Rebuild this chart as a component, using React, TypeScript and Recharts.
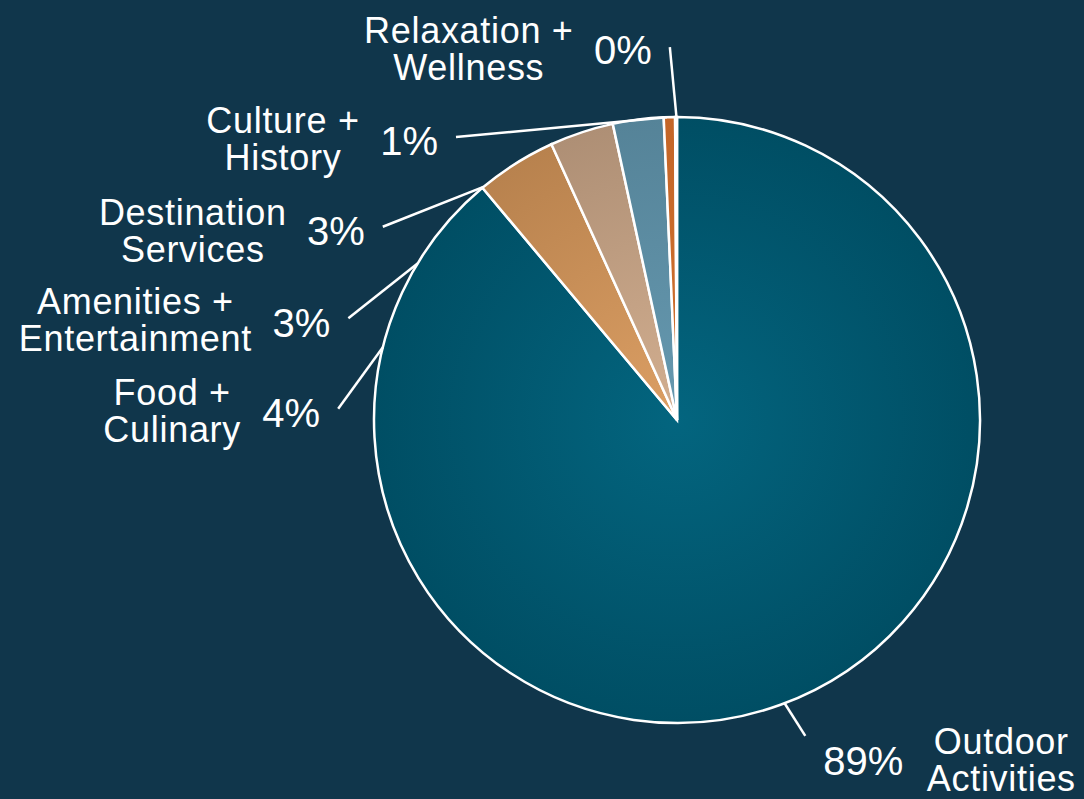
import { PieChart, Pie, Cell } from "recharts";

const categories = [
  "Outdoor Activities",
  "Food + Culinary",
  "Amenities + Entertainment",
  "Destination Services",
  "Culture + History",
  "Relaxation + Wellness",
];

const nameLines = [
  ["Outdoor", "Activities"],
  ["Food +", "Culinary"],
  ["Amenities +", "Entertainment"],
  ["Destination", "Services"],
  ["Culture +", "History"],
  ["Relaxation +", "Wellness"],
];

const shares = [88.9, 4.3, 3.4, 2.7, 0.6, 0.1];

const percentLabels = ["89%", "4%", "3%", "3%", "1%", "0%"];

// light centre / dark rim per slice
const colors = [
  ["#03657f", "#004e64"],
  ["#dc9f64", "#b8824e"],
  ["#d3af90", "#ae8f75"],
  ["#6699b0", "#558398"],
  ["#d0712f", "#c46628"],
  ["#e8d6c4", "#d9c2ab"],
];

// leader line: end on the rim (angle), start out in the open (angle, radius)
// text offsets are relative to the line start
const labelLayout = [
  { endA: -69.2, startA: -67.9, startR: 341, side: 1, pctDy: 39, nameDx: 196, nameDy: 18 },
  { endA: 166.1, startA: 178.1, startR: 339, side: -1, pctDy: 18, nameDx: -166, nameDy: -4 },
  { endA: 148.9, startA: 162.8, startR: 344, side: -1, pctDy: 19, nameDx: -213, nameDy: -4 },
  { endA: 129.7, startA: 146.7, startR: 352, side: -1, pctDy: 18, nameDx: -190, nameDy: -2 },
  { endA: 91.9, startA: 128, startR: 359, side: -1, pctDy: 18, nameDx: -173, nameDy: -4 },
  { endA: 90.1, startA: 91.1, startR: 373, side: -1, pctDy: 17, nameDx: -201, nameDy: -4 },
];

const data = categories.map((name, i) => ({ name, value: shares[i] }));

const RAD = Math.PI / 180;
const FONT = "Arial, 'Liberation Sans', sans-serif";

function polar(cx: number, cy: number, r: number, a: number) {
  return { x: cx + r * Math.cos(a * RAD), y: cy - r * Math.sin(a * RAD) };
}

function renderLabel(props: any) {
  const { cx, cy, outerRadius, index } = props;
  const l = labelLayout[index];
  const end = polar(cx, cy, outerRadius, l.endA);
  const start = polar(cx, cy, l.startR, l.startA);
  const px = start.x + l.side * 18;
  const lines = nameLines[index];
  return (
    <g>
      <line
        x1={start.x}
        y1={start.y}
        x2={end.x}
        y2={end.y}
        stroke="#ffffff"
        strokeWidth={2.5}
      />
      <text
        x={px}
        y={start.y + l.pctDy}
        fill="#ffffff"
        fontSize={40}
        fontFamily={FONT}
        textAnchor={l.side < 0 ? "end" : "start"}
      >
        {percentLabels[index]}
      </text>
      <text
        x={start.x + l.nameDx}
        y={start.y + l.nameDy}
        fill="#ffffff"
        fontSize={36}
        letterSpacing={0.7}
        fontFamily={FONT}
        textAnchor="middle"
      >
        <tspan x={start.x + l.nameDx} dy={0}>
          {lines[0]}
        </tspan>
        <tspan x={start.x + l.nameDx} dy={37}>
          {lines[1]}
        </tspan>
      </text>
    </g>
  );
}

export default function App() {
  return (
    <div
      style={{
        position: "absolute",
        left: 0,
        top: 0,
        width: 1084,
        height: 799,
        background: "#10364b",
      }}
    >
      <PieChart
        width={1084}
        height={799}
        margin={{ top: 0, right: 0, bottom: 0, left: 0 }}
      >
        <defs>
          {colors.map((c, i) => (
            <radialGradient
              key={i}
              id={`slice${i}`}
              gradientUnits="userSpaceOnUse"
              cx={677}
              cy={420}
              r={303}
            >
              <stop offset="0%" stopColor={c[0]} />
              <stop offset="100%" stopColor={c[1]} />
            </radialGradient>
          ))}
        </defs>
        <Pie
          data={data}
          dataKey="value"
          nameKey="name"
          cx={677}
          cy={420}
          outerRadius={303}
          startAngle={90}
          endAngle={-270}
          stroke="#ffffff"
          strokeWidth={2.5}
          label={renderLabel}
          labelLine={false}
          isAnimationActive={false}
        >
          {data.map((d, i) => (
            <Cell key={d.name} fill={`url(#slice${i})`} />
          ))}
        </Pie>
      </PieChart>
    </div>
  );
}
